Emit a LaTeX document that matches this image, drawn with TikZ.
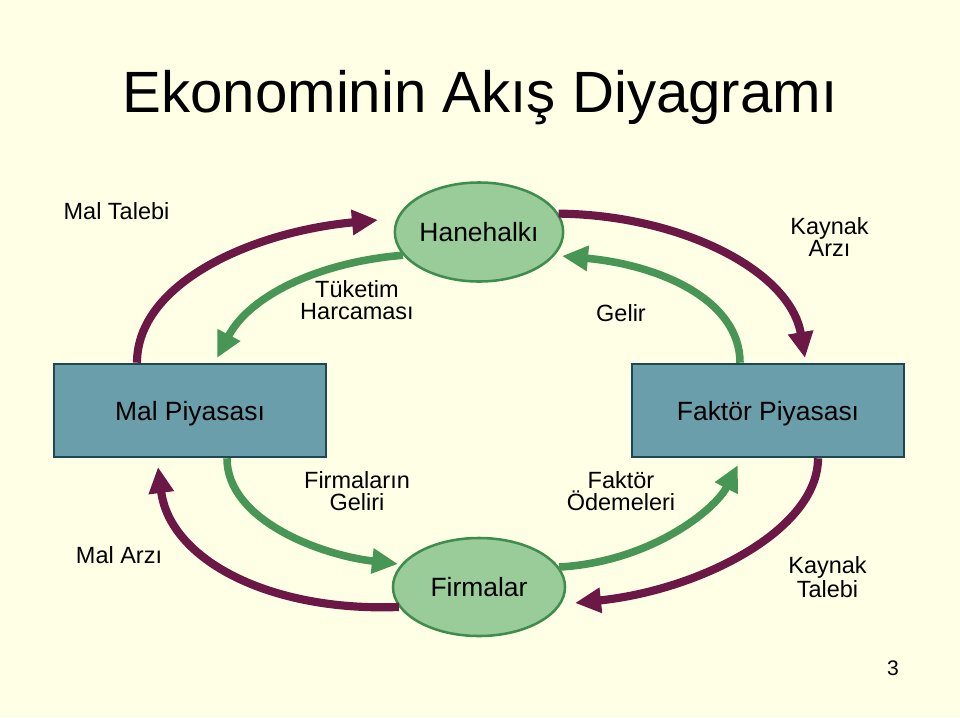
\documentclass[tikz,border=0pt]{standalone}
\usepackage{fontspec}
\setmainfont{Liberation Sans}
\usetikzlibrary{shapes, arrows.meta, positioning, calc}
\usepackage{xcolor}
\definecolor{cream}{RGB}{255,255,229}
\definecolor{leafgreen}{RGB}{153,204,153}
\definecolor{leafedge}{RGB}{62,140,78}
\definecolor{marketblue}{RGB}{106,158,170}
\definecolor{marketedge}{RGB}{28,72,82}
\definecolor{plum}{RGB}{108,24,70}
\definecolor{flowgreen}{RGB}{72,150,86}
\tikzstyle{actor} = [
    ellipse,
    draw=leafedge,
    fill=leafgreen,
    line width=1.8pt,
    inner sep=0pt,
    font=\fontsize{18.8}{22}\selectfont
]
\tikzstyle{market} = [
    rectangle,
    draw=marketedge,
    fill=marketblue,
    line width=1.8pt,
    minimum width=6.8cm,
    minimum height=2.325cm,
    text depth=0pt,
    font=\fontsize{18.8}{22}\selectfont
]
\tikzstyle{flowlabel} = [
    align=center,
    inner sep=0pt,
    font=\fontsize{16.7}{15.5}\selectfont
]
\tikzstyle{goodsflow} = [
    draw=plum,
    line width=5.8pt,
    -{Triangle[length=0.65cm, width=0.6cm]}
]
\tikzstyle{moneyflow} = [
    draw=flowgreen,
    line width=5.4pt,
    -{Triangle[length=0.65cm, width=0.6cm]}
]

\begin{document}
\begin{tikzpicture}[x=0.025cm, y=-0.025cm]
    \fill[cream] (0,0) rectangle (960,717);
    \node[anchor=base, inner sep=0pt, font=\fontsize{41.4}{48}\selectfont] (title) at (480,112) {Ekonominin Akış Diyagramı};

    \node[actor, minimum width=4.2cm, minimum height=2.475cm] (hane) at (479,232) {Hanehalkı};
    \node[actor, minimum width=4.3cm, minimum height=2.45cm] (firm) at (479,587) {Firmalar};
    \node[market] (malp) at (190,410.5) {Mal Piyasası};
    \node[market] (fakp) at (768,410.5) {Faktör Piyasası};

    \coordinate (tipMalTalebi) at (378,220);
    \coordinate (tipTuketim) at (217,358);
    \coordinate (tipKaynakArz) at (805,358);
    \coordinate (tipGelir) at (562,256);
    \coordinate (tipMalArz) at (158,467);
    \coordinate (tipFirmaGelir) at (398,564);
    \coordinate (tipFaktorOdeme) at (738,465);
    \coordinate (tipKaynakTalep) at (575,603);

    \draw[goodsflow] ($(malp.north)+(-53,0)$) .. controls (137,284) and (250,232) .. (tipMalTalebi);
    \draw[moneyflow] (hane.197) .. controls (320,262) and (250,295) .. (tipTuketim);
    \draw[goodsflow] (hane.13) .. controls (680,215) and (790,270) .. (tipKaynakArz);
    \draw[moneyflow] ($(fakp.north)+(-28,0)$) .. controls (740,300) and (660,265) .. (tipGelir);
    \draw[goodsflow] (firm.194) .. controls (270,612) and (170,560) .. (tipMalArz);
    \draw[moneyflow] ($(malp.south)+(37,0)$) .. controls (227,520) and (320,555) .. (tipFirmaGelir);
    \draw[moneyflow] (firm.14) .. controls (650,562) and (715,510) .. (tipFaktorOdeme);
    \draw[goodsflow] ($(fakp.south)+(50,0)$) .. controls (818,530) and (700,590) .. (tipKaynakTalep);

    % two-line labels sit on the baseline of their last line
    \node[flowlabel, anchor=base] (lMalTalebi) at (116.5,219.5) {Mal Talebi};
    \node[flowlabel, anchor=base] (lTuketim) at (357,319) {Tüketim\\Harcaması};
    \node[flowlabel, anchor=base] (lGelir) at (621,321) {Gelir};
    \node[flowlabel, anchor=base] (lKaynakArz) at (829.5,256) {Kaynak\\Arzı};
    \node[flowlabel, anchor=base] (lFirmaGelir) at (357,510) {Firmaların\\Geliri};
    \node[flowlabel, anchor=base] (lFaktorOdeme) at (621,510) {Faktör\\Ödemeleri};
    \node[flowlabel, anchor=base] (lMalArz) at (119,563) {Mal Arzı};
    \node[flowlabel, anchor=base] (lKaynakTalep) at (827.5,597) {Kaynak\\Talebi};
    \node[anchor=base, inner sep=0pt, font=\fontsize{15}{18}\selectfont] (pageno) at (893,675.5) {3};
\end{tikzpicture}
\end{document}
